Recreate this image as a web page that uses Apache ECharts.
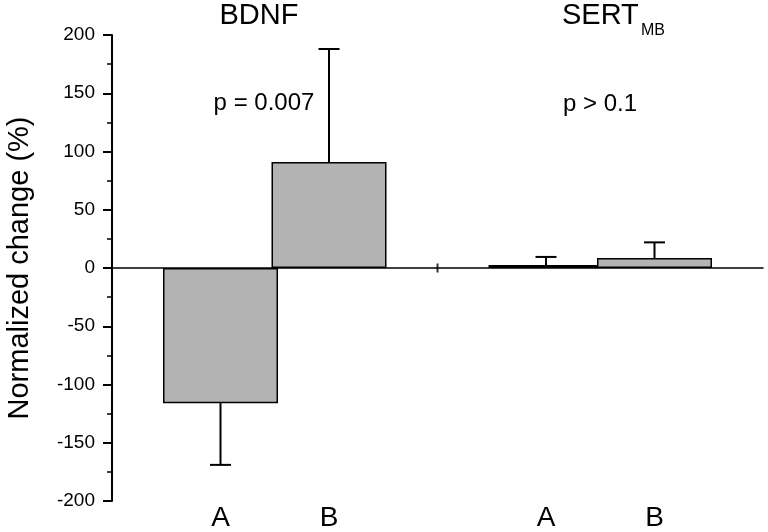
<!DOCTYPE html>
<html>
<head>
<meta charset="utf-8">
<script src="https://cdn.jsdelivr.net/npm/echarts@6/dist/echarts.min.js"></script>
<style>
  html, body { margin: 0; padding: 0; background: #fff; }
  #Chart { width: 768px; height: 532px; }
</style>
</head>
<body>
<div id="Chart"></div>
<script>
// category slots: empty slot at each end and a spacer between the two groups
let Categories = ["", "A", "B", "", "A", "B", ""]
let BdnfMeans = [-116, 91]
let BdnfErrEnds = [-169, 188]
let SertMeans = [2.6, 8.6]
let SertErrEnds = [9.5, 22]
let YTicks = { min: -200, max: 200, step: 50 }

let FontName = "'Liberation Sans', Arial, sans-serif"

// build series data from the arrays
let BarData = ["-", BdnfMeans[0], BdnfMeans[1], "-", SertMeans[0], SertMeans[1], "-"]
let ErrData = [
    [1, BdnfMeans[0], BdnfErrEnds[0]],
    [2, BdnfMeans[1], BdnfErrEnds[1]],
    [4, SertMeans[0], SertErrEnds[0]],
    [5, SertMeans[1], SertErrEnds[1]]
]

let chart = echarts.init(document.getElementById("Chart"))

let options = {
    animation: false,
    backgroundColor: "#fff",
    textStyle: { fontFamily: FontName },
    grid: { left: 112, right: 5, top: 35, bottom: 31, containLabel: false, outerBoundsMode: "none" },
    xAxis: [
        {
            type: "category",
            data: Categories,
            boundaryGap: false,
            position: "bottom",
            axisLine: { show: false, onZero: false },
            axisTick: { show: false },
            axisLabel: { interval: 0, fontSize: 28, color: "#000", margin: 3, fontFamily: FontName }
        },
        {
            // zero line
            type: "category",
            data: Categories,
            boundaryGap: false,
            position: "bottom",
            axisLine: { show: true, onZero: true, lineStyle: { color: "#000", width: 1.5 } },
            axisTick: { show: false },
            axisLabel: { show: false }
        }
    ],
    yAxis: {
        type: "value",
        min: YTicks.min,
        max: YTicks.max,
        interval: YTicks.step,
        name: "Normalized change (%)",
        nameLocation: "middle",
        nameRotate: 90,
        nameGap: 78,
        nameTextStyle: { fontSize: 29, color: "#000", fontFamily: FontName },
        axisLine: { show: true, onZero: false, lineStyle: { color: "#000", width: 2 } },
        axisTick: { show: true, length: 9, lineStyle: { color: "#000", width: 2 } },
        minorTick: { show: true, splitNumber: 2, length: 5, lineStyle: { color: "#000", width: 1.5 } },
        splitLine: { show: false },
        axisLabel: { fontSize: 19, color: "#000", margin: 17, fontFamily: FontName }
    },
    series: [
        {
            type: "bar",
            xAxisIndex: 0,
            data: BarData,
            barWidth: 115,
            itemStyle: { color: "#b3b3b3", borderColor: "#000", borderWidth: 1.5 }
        },
        {
            type: "custom",
            xAxisIndex: 0,
            data: ErrData,
            encode: { x: 0, y: [1, 2] },
            z: 5,
            renderItem: function (params, api) {
                let x = api.value(0)
                let p0 = api.coord([x, api.value(1)])
                let p1 = api.coord([x, api.value(2)])
                let st = { stroke: "#000", lineWidth: 2 }
                return {
                    type: "group",
                    children: [
                        { type: "line", shape: { x1: p0[0], y1: p0[1], x2: p1[0], y2: p1[1] }, style: st },
                        { type: "line", shape: { x1: p1[0] - 10.5, y1: p1[1], x2: p1[0] + 10.5, y2: p1[1] }, style: st }
                    ]
                }
            }
        },
        {
            // little break tick on the zero line between groups
            type: "scatter",
            xAxisIndex: 0,
            data: [[3, 0]],
            symbol: "rect",
            symbolSize: [2, 9],
            itemStyle: { color: "#000" },
            z: 6
        }
    ],
    graphic: [
        { type: "text", x: 259, y: 16, style: { text: "BDNF", font: "29px " + FontName, fill: "#000", textAlign: "center", textVerticalAlign: "middle" } },
        { type: "text", x: 562, y: 16, style: { text: "SERT", font: "29px " + FontName, fill: "#000", textAlign: "left", textVerticalAlign: "middle" } },
        { type: "text", x: 641, y: 31, style: { text: "MB", font: "16px " + FontName, fill: "#000", textAlign: "left", textVerticalAlign: "middle" } },
        { type: "text", x: 264, y: 103, style: { text: "p = 0.007", font: "24px " + FontName, fill: "#000", textAlign: "center", textVerticalAlign: "middle" } },
        { type: "text", x: 600, y: 104, style: { text: "p > 0.1", font: "24px " + FontName, fill: "#000", textAlign: "center", textVerticalAlign: "middle" } }
    ]
}

chart.setOption(options)
</script>
</body>
</html>
